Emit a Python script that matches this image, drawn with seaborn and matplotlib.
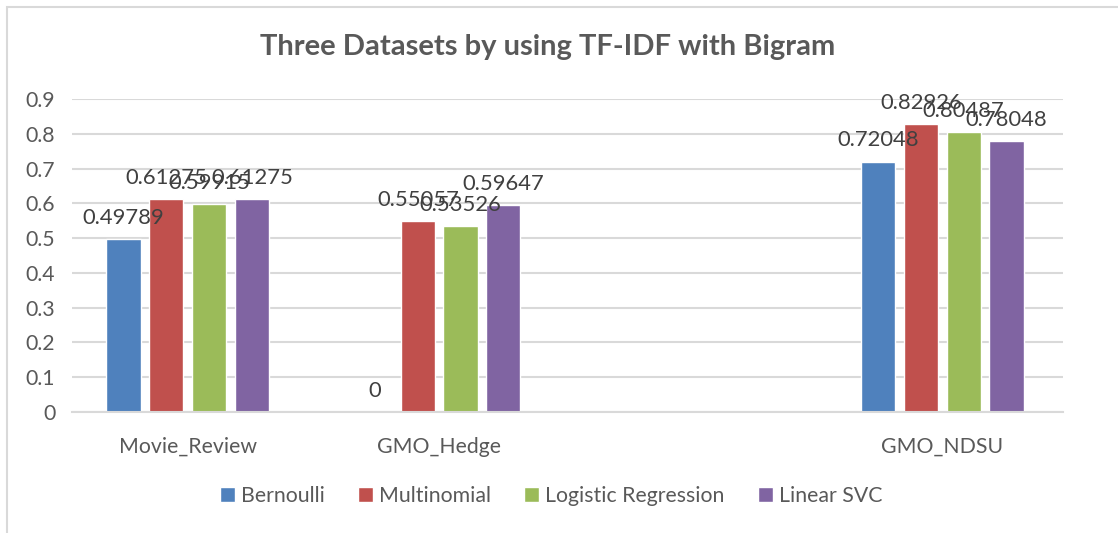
import pandas as pd
import matplotlib
matplotlib.use("Agg")
import matplotlib.pyplot as plt
from matplotlib.patches import Rectangle
import seaborn as sns

# ---- data ----
categories = ["Movie_Review", "GMO_Hedge", " ", "GMO_NDSU"]   # third slot is empty in the original
models = ["Bernoulli", "Multinomial", "Logistic Regression", "Linear SVC"]
movie_review = [0.49789, 0.61275, 0.59915, 0.61275]
gmo_hedge = [0.0, 0.55057, 0.53526, 0.59647]
gmo_ndsu = [0.72048, 0.82926, 0.80487, 0.78048]
colors = ["#4F81BD", "#C0504D", "#9BBB59", "#8064A2"]

rows = []
for cat, vals in [("Movie_Review", movie_review), ("GMO_Hedge", gmo_hedge), ("GMO_NDSU", gmo_ndsu)]:
    for m, v in zip(models, vals):
        rows.append({"Dataset": cat, "Model": m, "Score": v})
df = pd.DataFrame(rows)

sns.set_theme(style="white")
plt.rcParams['font.family'] = ['Lato', 'DejaVu Sans']

fig = plt.figure(figsize=(11.18, 5.33), dpi=100)
ax = fig.add_axes([0.0644, 0.227, 0.8864, 0.587])

sns.barplot(data=df, x="Dataset", y="Score", hue="Model", order=categories,
            hue_order=models, palette=colors, width=0.68, gap=0.2,
            saturation=1, ax=ax, errorbar=None)

for cont in ax.containers:
    ax.bar_label(cont, fmt="{:g}", padding=8, fontsize=15.8, color="#404040")

ax.set_ylim(0, 0.9)
ax.set_xlim(-0.46, 3.48)
ax.set_yticks([i / 10 for i in range(10)])
ax.set_yticklabels(["0"] + [f"{i / 10:.1f}" for i in range(1, 10)])
ax.yaxis.grid(True, color="#d9d9d9", linewidth=1.5)
ax.set_axisbelow(True)
for s in ["top", "right", "left"]:
    ax.spines[s].set_visible(False)
ax.spines["bottom"].set_color("#d9d9d9")
ax.spines["bottom"].set_linewidth(1.5)
ax.tick_params(axis="both", length=0, labelsize=15.3, labelcolor="#595959")
ax.tick_params(axis="x", pad=18)
ax.tick_params(axis="y", pad=12)
ax.set_xlabel("")
ax.set_ylabel("")

fig.text(0.49, 0.912, "Three Datasets by using TF-IDF with Bigram", ha="center", va="center",
         fontsize=21, fontweight="bold", color="#595959")

handles, labels = ax.get_legend_handles_labels()
ax.legend(handles, labels, loc="center", bbox_to_anchor=(0.493, 0.07),
          bbox_transform=fig.transFigure, ncol=4, frameon=False,
          fontsize=15.3, labelcolor="#595959", handlelength=0.7, handleheight=0.7,
          handletextpad=0.3, columnspacing=1.55)

# outer chart border (partially cut off on the right and bottom in the original)
fig.patches.append(Rectangle((7 / 1118, -0.05), 1.1, 1.05 - 7 / 533,
                             transform=fig.transFigure, fill=False,
                             edgecolor="#d9d9d9", linewidth=1.5))

fig.savefig("out.png", dpi=100)
